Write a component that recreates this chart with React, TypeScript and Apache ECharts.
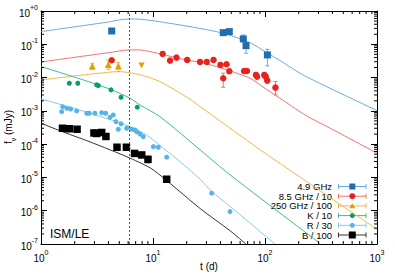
import { useEffect, useRef } from "react";
import * as echarts from "echarts";

const FONT = "'Liberation Sans', Arial, Helvetica, sans-serif";

// ---- model curves: [t (d), flux (mJy)] ----
const curve49 = [
  [1, 0.24], [2, 0.335], [4, 0.468], [5, 0.537], [6.1, 0.575], [7, 0.575], [9.4, 0.525],
  [21.4, 0.339], [42.4, 0.214], [73.5, 0.112], [103.5, 0.0562], [136, 0.0324],
  [227, 0.0112], [1000, 0.00102],
];
const curve85 = [
  [1, 0.0295], [2, 0.0406], [4, 0.0557], [6.1, 0.0676], [7.5, 0.0676], [9.4, 0.0603],
  [18.6, 0.0355], [26.3, 0.0288], [37, 0.0214], [73.5, 0.00955], [103.5, 0.00437],
  [136, 0.0024], [227, 0.000759], [407, 0.000269], [1000, 0.0000537],
];
const curve250 = [
  [1, 0.00851], [2, 0.0112], [3.5, 0.0138], [4.9, 0.0151], [6.1, 0.0141], [8, 0.0117],
  [11.5, 0.00759], [21.4, 0.00224], [26.3, 0.00135], [48.7, 0.000302], [100, 0.0000537],
  [1000, 2.75e-7],
];
const curveK = [
  [1, 0.0214], [2.385, 0.00851], [4.13, 0.00447], [6.23, 0.0024], [7.65, 0.00151],
  [11.5, 0.000676], [26.3, 0.0000676], [48.7, 0.000012], [309, 1.05e-7],
];
const curveR = [
  [1, 0.00229], [2.74, 0.000851], [6.23, 0.000339], [8.9, 0.000182], [11.55, 0.0000912],
  [16, 0.000038], [26.3, 8.91e-6], [33.4, 3.8e-6], [48.7, 1.35e-6], [122.8, 1e-7],
];
const curveB = [
  [1, 0.000427], [1.48, 0.000251], [2.74, 0.000117], [6.23, 0.000038], [10, 0.000017],
  [26.3, 1.17e-6], [48.7, 2.51e-7], [67.6, 1e-7],
];

// ---- observations: [t (d), flux, low, high] ----
const obs49 = [
  [4.28, 0.251, 0.232, 0.271], [42.4, 0.224, 0.205, 0.244], [48.0, 0.24, 0.222, 0.259],
  [64.0, 0.145, 0.12, 0.191], [67.7, 0.0912, 0.0537, 0.112], [105, 0.0479, 0.0224, 0.0708],
];
const obs85 = [
  [4.28, 0.0331, 0.0295, 0.0372], [12.2, 0.0513, 0.0457, 0.0575], [14.2, 0.0324, 0.0288, 0.0363],
  [16.2, 0.0398, 0.0355, 0.0447], [20.2, 0.0339, 0.0302, 0.038], [26.3, 0.0295, 0.0263, 0.0331],
  [30.2, 0.0295, 0.0263, 0.0331], [34.7, 0.0339, 0.0302, 0.038], [40.0, 0.024, 0.0214, 0.0269],
  [42.4, 0.00955, 0.00513, 0.0135], [45.3, 0.0251, 0.0224, 0.0282], [48.0, 0.0155, 0.0132, 0.0182],
  [65.0, 0.0158, 0.0141, 0.0178], [69.0, 0.0158, 0.0141, 0.0178], [83.0, 0.012, 0.0105, 0.0138],
  [85.0, 0.0107, 0.0093, 0.0123], [98.6, 0.012, 0.0105, 0.0138], [101.5, 0.0107, 0.0093, 0.0123],
  [104.7, 0.00813, 0.0069, 0.0096], [124, 0.00501, 0.00302, 0.00759],
];
const obs250 = [
  [2.87, 0.0224, 0.0178, 0.0269], [3.99, 0.0245, 0.0178, 0.0339], [4.9, 0.0224, 0.0151, 0.0282],
];
const limit250 = [[7.9, 0.0229]];
const obsK = [
  [1.79, 0.00676], [2.13, 0.00676], [3.14, 0.00603], [3.25, 0.00575], [4.22, 0.00427],
  [5.18, 0.00257], [7.24, 0.00129],
];
const obsR = [
  [1.53, 0.000946], [1.56, 0.001337], [1.7, 0.001197], [1.84, 0.00114], [2.08, 0.000993],
  [2.56, 0.000847], [2.7, 0.000847], [3.03, 0.000847], [3.48, 0.000883], [3.78, 0.000847],
  [4.13, 0.000643], [4.42, 0.000753], [4.67, 0.000474], [4.9, 0.00028], [5.18, 0.000407],
  [5.82, 0.0003], [6.45, 0.00028], [6.9, 0.000267], [7.15, 0.000237], [7.65, 0.000202],
  [8.19, 0.000168], [10.07, 0.0000841], [11.15, 0.0000807], [13.25, 0.0000405],
  [33.4, 3.36e-6], [48.7, 9.4e-7],
];
const obsB = [
  [1.556, 0.0003], [1.796, 0.00029], [2.1, 0.00028], [2.97, 0.000217], [3.14, 0.000209],
  [3.48, 0.000224], [3.8, 0.00017], [4.77, 0.0000807], [5.79, 0.0000807], [6.84, 0.0000526],
  [7.93, 0.0000474], [9.02, 0.0000348, 0.0000276, 0.0000437], [13.25, 8.83e-6],
];

const legendLabels = ["4.9 GHz", "8.5 GHz / 10", "250 GHz / 100", "K / 10", "R / 30", "B / 100"];
const xName = "t (d)";
const yNameRich = "{f|f}{sub|ν}{f| (mJy)}";
const modelLabel = "ISM/LE";
const jetBreakT = 6.1;
const xDecades = [1, 10, 100];
const yDecades = [1e-7, 1e-6, 1e-5, 1e-4, 1e-3, 1e-2, 1e-1];

const COL = {
  blue: { m: "#1f6db3", l: "#6aaadc" },
  red: { m: "#e8231c", l: "#f2736b" },
  orange: { m: "#e69f00", l: "#f2b845" },
  green: { m: "#009e73", l: "#3dbb92" },
  sky: { m: "#56b4e9", l: "#86c9ef" },
  black: { m: "#000000", l: "#333333" },
};

export default function App() {
  const ref = useRef<HTMLDivElement>(null);
  useEffect(() => {
    if (!ref.current) return;
    const chart = echarts.init(ref.current, null, { renderer: "svg" });

    const minorX: number[] = [];
    xDecades.forEach((d) => { for (let k = 2; k <= 9; k++) minorX.push(d * k); });
    const minorY: number[] = [];
    yDecades.forEach((d) => { for (let k = 2; k <= 9; k++) minorY.push(d * k); });

    const lineSeries = (data: number[][], color: string) => ({
      type: "line", data, showSymbol: false, symbol: "none", smooth: 0.25,
      lineStyle: { color, width: 1 }, z: 2, silent: true,
    });
    const errSeries = (data: number[][], color: string) => ({
      type: "custom", data: data.filter((d) => d.length >= 4), z: 3, silent: true,
      encode: { x: 0, y: [2, 3] },
      renderItem: (_p: any, api: any) => {
        const x = api.value(0);
        const p1 = api.coord([x, api.value(2)]);
        const p2 = api.coord([x, api.value(3)]);
        const st = { stroke: color, lineWidth: 1 };
        const c = 2;
        return {
          type: "group", children: [
            { type: "line", shape: { x1: p1[0], y1: p1[1], x2: p2[0], y2: p2[1] }, style: st },
            { type: "line", shape: { x1: p1[0] - c, y1: p1[1], x2: p1[0] + c, y2: p1[1] }, style: st },
            { type: "line", shape: { x1: p2[0] - c, y1: p2[1], x2: p2[0] + c, y2: p2[1] }, style: st },
          ],
        };
      },
    });
    const scatter = (data: number[][], color: string, symbol: string, size: number, rot = 0) => ({
      type: "scatter", data: data.map((d) => [d[0], d[1]]), symbol, symbolSize: size, symbolRotate: rot,
      itemStyle: { color, opacity: 1 }, z: 4, silent: true,
    });

    const tickStyle = { stroke: "#000", lineWidth: 1 };
    const axisLabelRich = {
      b: { fontSize: 10, fontFamily: FONT, color: "#000", lineHeight: 14, verticalAlign: "bottom" },
      s: { fontSize: 7, fontFamily: FONT, color: "#000", lineHeight: 7, verticalAlign: "top" },
    };
    const expOf = (v: number) => Math.round(Math.log10(v));

    const baseX = {
      type: "log", logBase: 10, min: 1, max: 1000,
      axisLine: { show: true, lineStyle: { color: "#000", width: 1 } },
      axisTick: { show: true, inside: true, length: 6, lineStyle: { color: "#000", width: 1 } },
      splitLine: { show: false }, minorTick: { show: false },
    };
    const baseY = {
      type: "log", logBase: 10, min: 1e-7, max: 1,
      axisLine: { show: true, lineStyle: { color: "#000", width: 1 } },
      axisTick: { show: true, inside: true, length: 6, lineStyle: { color: "#000", width: 1 } },
      splitLine: { show: false }, minorTick: { show: false },
    };

    const legendGraphics: any[] = [];
    const legendDefs = [
      { c: COL.blue, sym: "rect", size: 6 },
      { c: COL.red, sym: "circle", size: 6 },
      { c: COL.orange, sym: "tri", size: 6 },
      { c: COL.green, sym: "circle", size: 5 },
      { c: COL.sky, sym: "circle", size: 5 },
      { c: COL.black, sym: "rect", size: 7 },
    ];
    legendDefs.forEach((d, i) => {
      const y = 186.5 + i * 9.7;
      const x1 = 338.5, x2 = 366, xm = 352.3;
      legendGraphics.push({
        type: "text", x: 332, y,
        style: { text: legendLabels[i], fill: "#000", font: `9.5px ${FONT}`, textAlign: "right", textVerticalAlign: "middle" },
      });
      const st = { stroke: d.c.l, lineWidth: 1 };
      legendGraphics.push({ type: "line", shape: { x1, y1: y, x2, y2: y }, style: st });
      legendGraphics.push({ type: "line", shape: { x1, y1: y - 2.5, x2: x1, y2: y + 2.5 }, style: st });
      legendGraphics.push({ type: "line", shape: { x1: x2, y1: y - 2.5, x2, y2: y + 2.5 }, style: st });
      const h = d.size / 2;
      if (d.sym === "rect") {
        legendGraphics.push({ type: "rect", shape: { x: xm - h, y: y - h, width: d.size, height: d.size }, style: { fill: d.c.m } });
      } else if (d.sym === "circle") {
        legendGraphics.push({ type: "circle", shape: { cx: xm, cy: y, r: h }, style: { fill: d.c.m } });
      } else {
        legendGraphics.push({ type: "polygon", shape: { points: [[xm, y - h], [xm + h, y + h * 0.8], [xm - h, y + h * 0.8]] }, style: { fill: d.c.m } });
      }
    });

    chart.setOption({
      animation: false,
      backgroundColor: "#ffffff",
      textStyle: { fontFamily: FONT },
      grid: { left: 41, right: 18, top: 11, bottom: 31, containLabel: false, outerBoundsMode: "none" },
      xAxis: [
        {
          ...baseX, position: "bottom",
          axisLabel: { show: true, margin: 5, formatter: (v: number) => `{b|10}{s|${expOf(v)}}`, rich: axisLabelRich },
        },
        { ...baseX, position: "top", axisLabel: { show: false } },
      ],
      yAxis: [
        {
          ...baseY, position: "left",
          axisLabel: {
            show: true, margin: 3,
            formatter: (v: number) => { const e = expOf(v); return `{b|10}{s|${e >= 0 ? "+" + e : e}}`; },
            rich: axisLabelRich,
          },
        },
        { ...baseY, position: "right", axisLabel: { show: false } },
      ],
      graphic: [
        { type: "text", x: 50, y: 234, style: { text: modelLabel, fill: "#000", font: `12px ${FONT}`, textVerticalAlign: "middle" } },
        { type: "text", x: 209, y: 266.5, style: { text: xName, fill: "#000", font: `10px ${FONT}`, textAlign: "center", textVerticalAlign: "middle" } },
        {
          type: "text", x: 10, y: 127, rotation: Math.PI / 2,
          style: {
            text: yNameRich, fill: "#000", textAlign: "center", textVerticalAlign: "middle",
            rich: {
              f: { fontSize: 10, fontFamily: FONT, fill: "#000", lineHeight: 13, verticalAlign: "top" },
              sub: { fontSize: 7, fontFamily: FONT, fill: "#000", lineHeight: 7, verticalAlign: "bottom" },
            },
          },
        },
        ...legendGraphics,
      ],
      series: [
        {
          ...lineSeries(curve49, COL.blue.l),
          markLine: {
            silent: true, symbol: "none", label: { show: false },
            lineStyle: { color: "#555", width: 1, type: [2, 2] },
            data: [{ xAxis: jetBreakT }],
          },
        },
        lineSeries(curve85, COL.red.l),
        lineSeries(curve250, COL.orange.l),
        lineSeries(curveK, COL.green.l),
        lineSeries(curveR, COL.sky.l),
        lineSeries(curveB, COL.black.l),
        errSeries(obs49, COL.blue.l),
        errSeries(obs85, COL.red.l),
        errSeries(obs250, COL.orange.l),
        errSeries(obsB, "#444"),
        scatter(obs49, COL.blue.m, "rect", 7),
        scatter(obs85, COL.red.m, "circle", 6.5),
        scatter(obs250, COL.orange.m, "triangle", 7),
        scatter(limit250, COL.orange.m, "triangle", 6, 180),
        scatter(obsK, COL.green.m, "circle", 5),
        scatter(obsR, COL.sky.m, "circle", 5),
        scatter(obsB, COL.black.m, "rect", 7.5),
        {
          type: "custom", data: minorX.map((v) => [v, 1]), silent: true, z: 5,
          renderItem: (params: any, api: any) => {
            const px = api.coord([api.value(0), 1])[0];
            const cs = params.coordSys;
            return {
              type: "group", children: [
                { type: "line", shape: { x1: px, y1: cs.y + cs.height, x2: px, y2: cs.y + cs.height - 3 }, style: tickStyle },
                { type: "line", shape: { x1: px, y1: cs.y, x2: px, y2: cs.y + 3 }, style: tickStyle },
              ],
            };
          },
        },
        {
          type: "custom", data: minorY.map((v) => [1, v]), silent: true, z: 5,
          renderItem: (params: any, api: any) => {
            const py = api.coord([1, api.value(1)])[1];
            const cs = params.coordSys;
            return {
              type: "group", children: [
                { type: "line", shape: { x1: cs.x, y1: py, x2: cs.x + 3, y2: py }, style: tickStyle },
                { type: "line", shape: { x1: cs.x + cs.width, y1: py, x2: cs.x + cs.width - 3, y2: py }, style: tickStyle },
              ],
            };
          },
        },
      ],
    });
    return () => chart.dispose();
  }, []);
  return <div ref={ref} style={{ position: "fixed", left: 0, top: 0, width: 395, height: 275 }} />;
}
